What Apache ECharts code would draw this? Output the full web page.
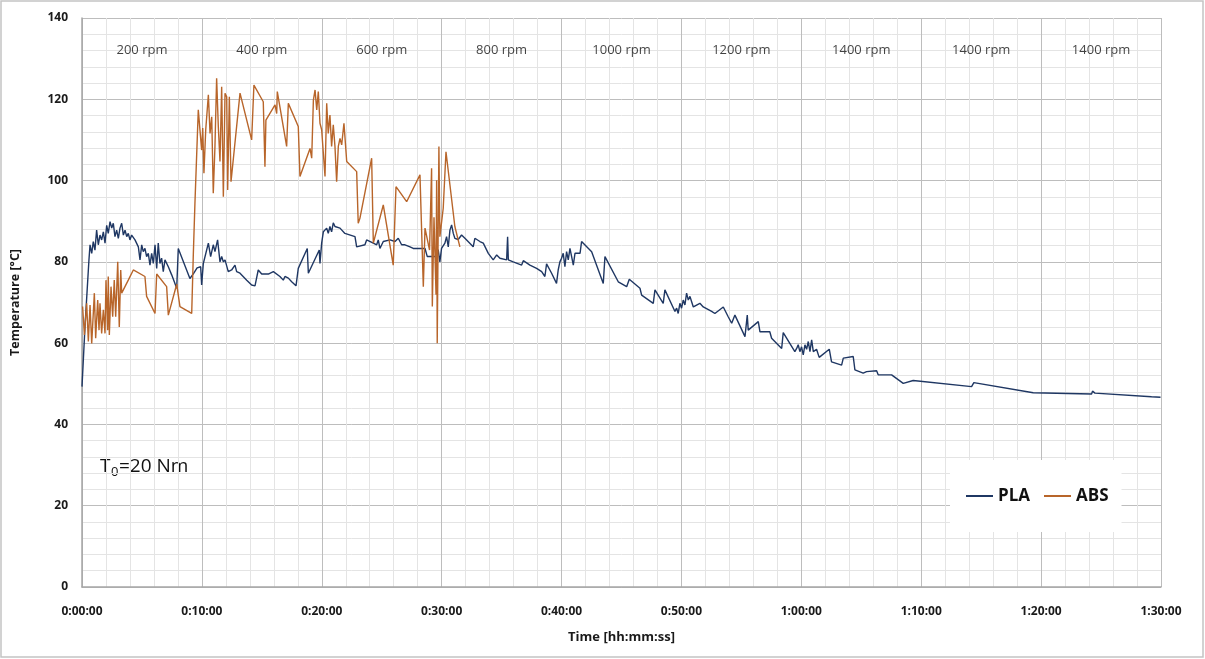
<!DOCTYPE html>
<html>
<head>
<meta charset="utf-8">
<script src="https://cdn.jsdelivr.net/npm/echarts@6/dist/echarts.min.js"></script>
<style>
html,body{margin:0;padding:0;background:#fff;}
#chart{width:1205px;height:659px;}
</style>
</head>
<body>
<div id="chart"></div>
<script>
// Time in minutes, temperature in °C
const plaTime = [0.00,0.25,0.58,0.67,0.81,0.94,1.08,1.22,1.36,1.50,1.64,1.78,1.92,2.06,2.19,2.34,2.48,2.61,2.75,2.89,3.03,3.17,3.31,3.45,3.59,3.73,3.86,4.00,4.14,4.42,4.70,4.84,4.98,5.11,5.25,5.39,5.53,5.67,5.81,5.95,6.09,6.23,6.36,6.50,6.64,6.78,6.92,7.20,7.48,7.90,8.03,9.00,9.30,9.60,9.90,9.98,10.12,10.54,10.73,10.95,11.09,11.31,11.51,11.65,11.79,11.93,12.20,12.48,12.76,12.90,13.18,13.74,14.15,14.43,14.70,14.99,15.54,15.96,16.51,16.79,16.93,17.21,17.49,17.85,18.04,18.79,18.88,19.79,19.85,19.99,20.13,20.27,20.41,20.54,20.68,20.82,20.96,21.10,21.52,21.93,22.77,22.91,23.60,23.74,24.30,24.58,24.71,24.85,25.13,25.69,26.11,26.38,26.66,26.94,27.36,27.63,28.05,28.61,28.80,29.58,29.71,29.85,29.99,30.27,30.41,30.55,30.69,30.83,30.97,31.10,31.38,31.66,31.94,32.63,32.77,33.19,33.47,33.61,33.89,34.30,34.59,34.86,35.42,35.50,35.56,35.97,36.67,36.81,37.36,37.92,38.34,38.61,38.75,39.17,39.58,39.72,39.86,40.00,40.14,40.28,40.42,40.56,40.70,40.84,40.98,41.12,41.54,41.67,42.51,43.48,43.62,44.73,45.43,45.65,46.54,46.68,47.65,47.79,48.48,48.62,49.46,49.60,49.73,49.87,50.01,50.15,50.29,50.43,50.57,50.71,50.85,50.99,51.54,51.82,52.52,52.79,53.49,53.90,54.19,54.46,55.30,55.49,55.57,56.41,56.55,56.69,57.37,57.52,58.36,58.49,59.46,59.61,59.74,59.88,60.02,60.16,60.30,60.44,60.58,60.72,60.86,61.00,61.27,61.49,62.33,62.52,63.36,63.50,64.33,64.47,65.16,65.44,66.28,66.41,67.53,68.50,69.33,74.20,74.39,79.34,84.21,84.29,84.49,89.21,89.96];
const plaTemp = [49.3,64.1,80.5,84.2,82.1,85.0,82.9,87.8,84.2,86.6,85.4,87.4,84.6,89.0,87.0,89.9,88.3,89.5,86.2,87.8,85.8,88.3,89.5,86.6,87.8,86.2,87.0,85.4,86.6,85.4,83.7,80.5,84.2,82.5,83.3,81.3,82.1,79.2,82.1,79.6,84.2,78.4,84.6,79.6,80.9,77.6,80.5,78.8,76.8,73.5,83.3,75.9,77.1,78.5,78.8,74.3,79.6,84.6,81.3,84.2,82.5,85.4,80.0,81.3,80.0,80.5,77.6,78.0,79.2,77.6,77.2,75.5,74.3,74.1,78.0,77.0,77.0,77.6,76.4,75.5,76.4,76.0,75.1,74.1,78.4,83.3,77.2,82.9,79.6,84.6,87.4,87.8,88.3,87.0,88.7,87.4,89.6,88.7,88.3,87.0,86.2,83.7,84.2,85.4,84.6,84.2,85.4,83.3,85.0,85.4,85.0,85.8,84.2,84.2,83.7,83.3,83.3,83.3,81.3,81.3,83.0,80.0,83.3,84.6,86.2,83.7,87.8,89.1,87.0,85.8,85.5,86.6,85.8,83.7,85.8,85.0,84.6,84.2,82.1,80.5,81.7,80.9,80.5,86.2,80.5,80.0,79.2,80.3,79.2,78.4,77.6,76.4,79.5,77.2,74.7,78.0,80.0,80.9,82.1,78.8,82.5,80.5,83.3,81.3,79.2,82.1,82.1,85.0,82.5,74.7,81.3,75.1,73.9,75.7,73.5,71.8,69.8,73.1,69.8,73.1,67.8,68.6,67.3,69.8,68.6,70.6,69.4,72.3,70.6,71.5,70.2,68.9,69.8,68.9,67.8,67.3,68.9,66.5,64.9,66.9,61.6,66.9,63.2,65.3,62.8,62.4,62.8,61.2,58.7,62.6,57.9,58.7,59.6,57.9,59.1,57.1,59.6,58.5,60.4,57.9,60.8,57.9,58.5,56.5,58.5,55.4,54.6,56.3,56.7,53.4,52.6,53.0,53.2,52.2,52.2,50.1,50.8,49.3,50.3,47.8,47.5,48.2,47.7,46.8,46.7];

const absTime = [0.05,0.20,0.39,0.53,0.67,0.81,1.03,1.14,1.31,1.42,1.50,1.64,1.78,1.92,2.00,2.14,2.19,2.28,2.42,2.56,2.69,2.81,2.98,3.11,3.23,3.31,3.86,4.28,4.42,5.25,5.39,6.09,6.23,7.06,7.20,7.90,8.17,9.15,9.28,9.42,9.70,9.98,10.07,10.17,10.32,10.54,10.68,10.82,10.95,11.09,11.23,11.37,11.51,11.65,11.79,11.93,12.07,12.15,12.29,12.43,13.18,14.15,14.34,15.12,15.26,15.34,16.10,16.24,16.29,17.07,17.21,18.04,18.18,19.02,19.16,19.30,19.44,19.58,19.71,19.85,19.99,20.27,20.41,20.54,20.68,20.82,20.96,21.10,21.24,21.38,21.52,21.66,21.85,22.08,22.21,22.91,23.04,23.18,24.16,24.30,25.13,25.96,26.19,27.08,28.19,28.47,28.61,28.99,29.16,29.22,29.36,29.53,29.58,29.63,29.77,29.85,30.13,30.36,30.69,31.10,31.52];
const absTemp = [69.0,62.0,69.8,60.4,69.4,59.9,72.3,61.2,70.6,63.2,69.8,62.4,68.2,62.4,75.5,63.2,76.4,62.0,73.9,66.5,75.5,66.5,80.0,64.0,78.0,72.3,75.5,78.0,78.4,76.4,71.5,67.3,77.0,73.9,66.9,74.5,69.0,67.3,81.3,94.4,117.4,107.5,112.9,101.8,112.5,121.1,111.6,115.7,96.9,108.4,125.2,113.3,104.7,123.1,96.0,121.5,120.6,97.7,120.6,99.7,121.5,110.0,123.5,119.4,103.4,114.9,118.6,116.5,121.9,108.4,119.0,113.3,101.0,107.9,105.5,119.8,122.3,117.4,121.9,114.1,112.5,101.0,119.0,111.6,116.1,108.4,113.7,108.4,99.7,108.4,110.4,108.8,114.1,104.7,104.7,102.2,89.5,90.7,105.5,84.6,94.0,79.2,98.5,94.8,101.4,73.9,88.3,82.9,103.0,69.0,91.0,71.9,100.1,60.0,108.4,86.2,93.2,107.1,98.9,88.7,83.7];

const rpmLabels = ['200 rpm','400 rpm','600 rpm','800 rpm','1000 rpm','1200 rpm','1400 rpm','1400 rpm','1400 rpm'];
const rpmLabelTemp = 132;
const yTicks = {min:0, max:140, interval:20};
const xTicks = {min:0, max:90, interval:10};

const FONT = '"Open Sans", sans-serif';
const pair = (ts, vs) => ts.map((t, i) => [t, vs[i]]);
const fmtTime = v => {
  const h = Math.floor(v / 60), m = Math.round(v % 60);
  return h + ':' + String(m).padStart(2, '0') + ':00';
};

const chart = echarts.init(document.getElementById('chart'), null, {renderer:'canvas'});
chart.setOption({
  backgroundColor: '#fff',
  animation: false,
  grid: {left: 82, right: 44, top: 18, bottom: 72},
  xAxis: {
    type: 'value', min: xTicks.min, max: xTicks.max, interval: xTicks.interval,
    name: 'Time [hh:mm:ss]', nameLocation: 'middle', nameGap: 44,
    nameTextStyle: {fontFamily: FONT, fontWeight: 'bold', fontSize: 13, color: '#1a1a1a'},
    axisLine: {show: true, lineStyle: {color: '#a6a6a6', width: 1.5}},
    axisTick: {show: false},
    axisLabel: {formatter: fmtTime, margin: 19, fontFamily: FONT, fontWeight: 'bold', fontSize: 12, color: '#1a1a1a'},
    splitLine: {show: true, lineStyle: {color: '#bdbdbd', width: 1}},
    minorTick: {show: false, splitNumber: 5},
    minorSplitLine: {show: true, lineStyle: {color: '#e4e4e4', width: 1}}
  },
  yAxis: {
    type: 'value', min: yTicks.min, max: yTicks.max, interval: yTicks.interval,
    name: 'Temperature [°C]', nameLocation: 'middle', nameGap: 60, nameRotate: 90,
    nameTextStyle: {fontFamily: FONT, fontWeight: 'bold', fontSize: 12.5, color: '#1a1a1a'},
    axisLine: {show: true, lineStyle: {color: '#a6a6a6', width: 1.5}},
    axisTick: {show: false},
    axisLabel: {margin: 14, fontFamily: FONT, fontWeight: 'bold', fontSize: 12, color: '#1a1a1a'},
    splitLine: {show: true, lineStyle: {color: '#bdbdbd', width: 1}},
    minorTick: {show: false, splitNumber: 5},
    minorSplitLine: {show: true, lineStyle: {color: '#e4e4e4', width: 1}}
  },
  legend: {
    data: ['PLA', 'ABS'],
    left: 950, top: 460,
    backgroundColor: '#fff',
    padding: [26, 13, 26, 16],
    itemWidth: 27, itemHeight: 2, itemGap: 14,
    icon: 'rect',
    textStyle: {fontFamily: FONT, fontWeight: 'bold', fontSize: 17, color: '#111', lineHeight: 20}
  },
  graphic: [
    {type: 'rect', shape: {x: 1, y: 1, width: 1202, height: 656}, style: {fill: 'none', stroke: '#c4c4c4', lineWidth: 1.5}, z: 100},
    {type: 'group', left: 100, top: 457, children: [
      {type: 'text', x: 0, y: 0, style: {text: 'T', fontFamily: FONT, fontSize: 19, fill: '#111'}},
      {type: 'text', x: 11, y: 9, style: {text: '0', fontFamily: FONT, fontSize: 13, fill: '#111'}},
      {type: 'text', x: 19, y: 0, style: {text: '=20 Nm', fontFamily: FONT, fontSize: 19, fill: '#111'}}
    ]}
  ],
  series: [
    {
      name: 'PLA', type: 'line', data: pair(plaTime, plaTemp),
      symbol: 'none', smooth: false,
      lineStyle: {color: '#1f3763', width: 1.4},
      itemStyle: {color: '#1f3763'}, z: 3
    },
    {
      name: 'ABS', type: 'line', data: pair(absTime, absTemp),
      symbol: 'none', smooth: false,
      lineStyle: {color: '#b8652a', width: 1.4},
      itemStyle: {color: '#b8652a'}, z: 4
    },
    {
      name: 'rpm', type: 'scatter', silent: true, symbolSize: 0,
      data: rpmLabels.map((n, i) => ({name: n, value: [xTicks.interval * i + xTicks.interval / 2, rpmLabelTemp]})),
      label: {show: true, position: 'inside', formatter: '{b}', fontFamily: FONT, fontSize: 13, color: '#111'},
      z: 5
    }
  ]
});
</script>
</body>
</html>
